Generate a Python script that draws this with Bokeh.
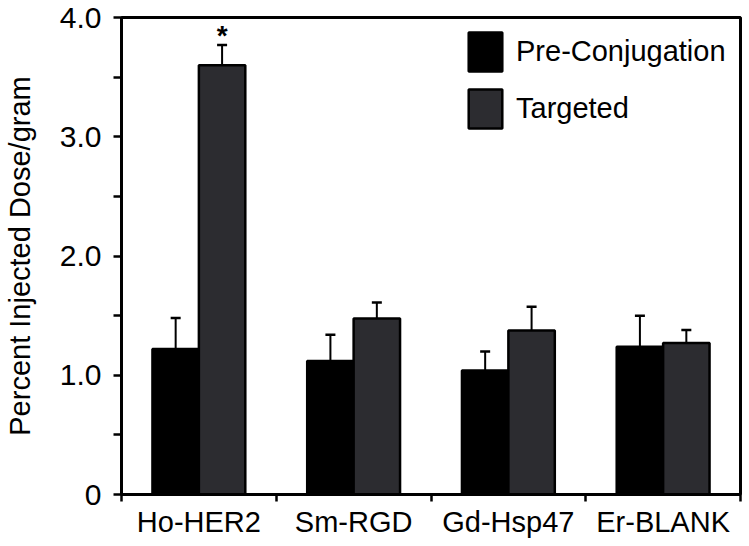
from bokeh.plotting import figure
from bokeh.models import ColumnDataSource, Range1d, FixedTicker, Whisker, TeeHead, Legend, LegendItem
from bokeh.transform import dodge
from bokeh.core.properties import value
from bokeh.embed import file_html
from bokeh.resources import INLINE
import numpy as np

categories = ["Ho-HER2", "Sm-RGD", "Gd-Hsp47", "Er-BLANK"]
pre_conj = [1.22, 1.12, 1.04, 1.24]
pre_conj_err = [0.26, 0.22, 0.16, 0.26]
targeted = [3.60, 1.475, 1.375, 1.27]
targeted_err = [0.17, 0.135, 0.20, 0.11]
significant = ["*", "", "", ""]
y_ticks = [0, 1, 2, 3, 4]
y_tick_labels = ["0", "1.0", "2.0", "3.0", "4.0"]
y_minor = [0.5, 1.5, 2.5, 3.5]
y_title = "Percent Injected Dose/gram"

FONT = "Liberation Sans"
GREY = "#2c2c30"

xc = np.arange(len(categories)) + 0.5
src = ColumnDataSource(dict(
    x=xc,
    pre=pre_conj, pre_up=np.array(pre_conj) + np.array(pre_conj_err),
    tgt=targeted, tgt_up=np.array(targeted) + np.array(targeted_err),
    sig=significant,
))

p = figure(width=745, height=540, output_backend="svg", toolbar_location=None,
           x_range=Range1d(0, len(categories)), y_range=Range1d(0, 4.0),
           min_border_left=121, min_border_right=5, min_border_top=17, min_border_bottom=45)
p.grid.visible = False
p.outline_line_color = "black"
p.outline_line_width = 3

r_pre = p.vbar(x=dodge("x", -0.15), top="pre", bottom=0, width=0.3, source=src,
               fill_color="black", line_color="black", line_width=2.5)
r_tgt = p.vbar(x=dodge("x", 0.15), top="tgt", bottom=0, width=0.3, source=src,
               fill_color=GREY, line_color="black", line_width=2.5)

for col_lo, col_up, off in (("pre", "pre_up", -0.15), ("tgt", "tgt_up", 0.15)):
    w = Whisker(base=dodge("x", off), lower=col_lo, upper=col_up, source=src,
                line_color="black", line_width=2,
                upper_head=TeeHead(size=10, line_width=2.5, line_color="black"),
                lower_head=None)
    p.add_layout(w)

p.text(x=dodge("x", 0.15), y="tgt_up", text="sig", source=src,
       text_font=value(FONT), text_font_size="28px", text_font_style="bold",
       text_align="center", text_baseline="alphabetic", y_offset=-9, text_color="black")

# x axis
xa = p.xaxis[0]
xa.ticker = FixedTicker(ticks=list(xc), minor_ticks=list(range(len(categories) + 1)))
xa.major_label_overrides = {float(x): c for x, c in zip(xc, categories)}
xa.major_tick_out = 0
xa.major_tick_in = 0
xa.minor_tick_out = 7
xa.minor_tick_in = 0
xa.minor_tick_line_width = 2.5
xa.axis_line_width = 3
xa.major_label_text_font = FONT
xa.major_label_text_font_size = "29px"
xa.major_label_text_color = "black"
xa.major_label_standoff = 4

# y axis
ya = p.yaxis[0]
ya.ticker = FixedTicker(ticks=y_ticks, minor_ticks=y_minor)
ya.major_label_overrides = {t: l for t, l in zip(y_ticks, y_tick_labels)}
ya.major_tick_out = 8
ya.major_tick_in = 0
ya.minor_tick_out = 8
ya.minor_tick_in = 0
ya.major_tick_line_width = 2.5
ya.minor_tick_line_width = 2.5
ya.axis_line_width = 3
ya.major_label_text_font = FONT
ya.major_label_text_font_size = "30px"
ya.major_label_text_color = "black"
ya.major_label_standoff = 12
ya.axis_label = y_title
ya.axis_label_text_font = FONT
ya.axis_label_text_font_size = "29px"
ya.axis_label_text_font_style = "normal"
ya.axis_label_text_color = "black"
ya.axis_label_standoff = 21

legend = Legend(items=[LegendItem(label="Pre-Conjugation", renderers=[r_pre]),
                       LegendItem(label="Targeted", renderers=[r_tgt])],
                location=(343, 361), padding=0, margin=0, spacing=8,
                glyph_width=42, glyph_height=49, label_height=49, label_standoff=10,
                label_text_font=FONT, label_text_font_size="29px", label_text_color="black",
                border_line_alpha=0, background_fill_alpha=0)
p.add_layout(legend)

open("out.html", "w").write(file_html(p, INLINE))
